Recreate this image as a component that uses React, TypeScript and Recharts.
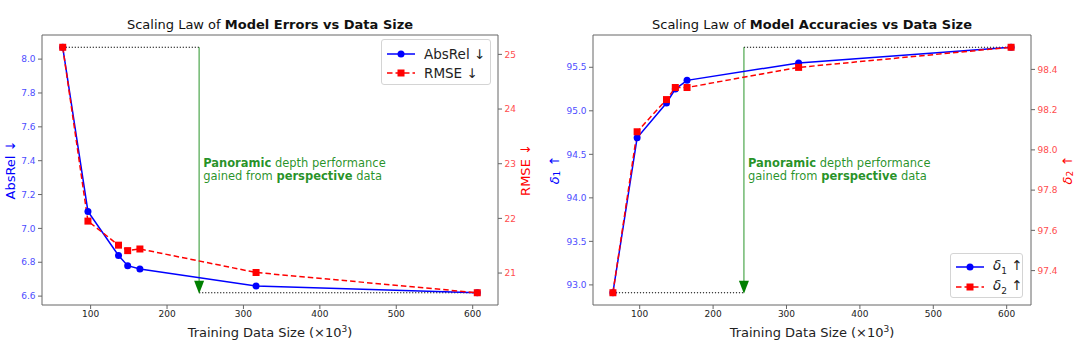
import React from "react"
import { ComposedChart, Legend, Line, ReferenceLine, XAxis, YAxis } from "recharts"

const font = "DejaVu Sans"

const sizes = [63.5, 96.5, 136.5, 148.5, 164.5, 316.5, 606]
const absRel = [8.07, 7.1, 6.84, 6.78, 6.76, 6.66, 6.62]
const rmse = [25.13, 21.95, 21.51, 21.41, 21.44, 21.01, 20.64]
const delta1 = [92.91, 94.69, 95.09, 95.25, 95.35, 95.55, 95.73]
const delta2 = [97.29, 98.09, 98.25, 98.31, 98.31, 98.41, 98.51]

const xTicks = [100, 200, 300, 400, 500, 600]
const absRelTicks = [6.6, 6.8, 7.0, 7.2, 7.4, 7.6, 7.8, 8.0]
const rmseTicks = [21, 22, 23, 24, 25]
const delta1Ticks = [93.0, 93.5, 94.0, 94.5, 95.0, 95.5]
const delta2Ticks = [97.4, 97.6, 97.8, 98.0, 98.2, 98.4]

// data size where the panoramic-only model is matched
const crossover = 242

const errorData = sizes.map((size, i) => ({ size, absRel: absRel[i], rmse: rmse[i] }))
const accData = sizes.map((size, i) => ({ size, delta1: delta1[i], delta2: delta2[i] }))

// matplotlib-like 5% margins
const pad = (v: number[]): [number, number] => {
  const lo = Math.min(...v)
  const hi = Math.max(...v)
  const m = (hi - lo) * 0.05
  return [lo - m, hi + m]
}

const xDomain = pad(sizes)
const absRelDomain = pad(absRel)
const rmseDomain = pad(rmse)
const delta1Domain = pad(delta1)
const delta2Domain = pad(delta2)

const BLUE = "#0000ff"
const RED = "#ff0000"
const SPINE = "#666"

const Square = (props: any) => {
  const { cx, cy, index } = props
  if (cx == null || cy == null) return <g key={index} />
  return <rect key={index} x={cx - 3.5} y={cy - 3.5} width={7} height={7} fill={RED} />
}

const arrowShape = (props: any) => {
  const { x1, y1, x2, y2 } = props
  return (
    <g>
      <line x1={x1} y1={y1} x2={x2} y2={y2 - 10} stroke="#008000" strokeOpacity={0.7} strokeWidth={1.2} />
      <polygon points={`${x2 - 5},${y2 - 12} ${x2 + 5},${y2 - 12} ${x2},${y2 + 1}`} fill="#008000" />
      <text x={x1 + 4} y={166.5} fontSize={11.5} fontFamily={font} fill="#008000" fillOpacity={0.85}>
        <tspan fontWeight="bold">Panoramic</tspan> depth performance
      </text>
      <text x={x1 + 4} y={180} fontSize={11.5} fontFamily={font} fill="#008000" fillOpacity={0.85}>
        gained from <tspan fontWeight="bold">perspective</tspan> data
      </text>
    </g>
  )
}

const titleLabel = (bold: string) => (props: any) => {
  const vb = props.viewBox
  return (
    <text x={vb.x + vb.width / 2} y={vb.y - 6} textAnchor="middle" fontSize={13} fontFamily={font} fill="#111">
      Scaling Law of <tspan fontWeight="bold">{bold}</tspan>
    </text>
  )
}

const xLabel = (props: any) => {
  const vb = props.viewBox
  return (
    <text x={vb.x + vb.width / 2} y={337} textAnchor="middle" fontSize={13} fontFamily={font} fill="#222">
      Training Data Size (×10<tspan dy={-5} fontSize={9}>3</tspan>
      <tspan dy={5}>)</tspan>
    </text>
  )
}

const yLabel = (offset: number, color: string, content: React.ReactNode) => (props: any) => {
  const vb = props.viewBox
  const cx = vb.x + offset
  const cy = vb.y + vb.height / 2
  return (
    <text
      x={cx}
      y={cy}
      textAnchor="middle"
      dominantBaseline="central"
      transform={`rotate(-90 ${cx} ${cy})`}
      fontSize={13}
      fontFamily={font}
      fill={color}
    >
      {content}
    </text>
  )
}

type Item = { label: React.ReactNode; color: string; dashed: boolean }

const LegendBox = ({ items, width, height, rowH, padTop }: { items: Item[]; width: number; height: number; rowH: number; padTop: number }) => (
  <div
    style={{
      width,
      height,
      boxSizing: "border-box",
      border: "1px solid #d4d4d4",
      borderRadius: 3,
      background: "rgba(255,255,255,0.85)",
      paddingTop: padTop,
      paddingLeft: 4.5,
      fontFamily: font,
      fontSize: 13.5,
      color: "#222",
    }}
  >
    {items.map((it, i) => (
      <div key={i} style={{ display: "flex", alignItems: "center", height: rowH, whiteSpace: "nowrap" }}>
        <svg width={28} height={10} style={{ flex: "none" }}>
          <line x1={0} y1={5} x2={28} y2={5} stroke={it.color} strokeWidth={1.5} strokeDasharray={it.dashed ? "5.5 3" : undefined} />
          {it.dashed ? (
            <rect x={10.5} y={1.5} width={7} height={7} fill={it.color} />
          ) : (
            <circle cx={14} cy={5} r={3.5} fill={it.color} />
          )}
        </svg>
        <span style={{ marginLeft: 9.5 }}>{it.label}</span>
      </div>
    ))}
  </div>
)

const dotted = { stroke: "#000", strokeWidth: 1.2, strokeDasharray: "1.2 1.8" }
const tickStyle = (fill: string) => ({ fill, fontSize: 9, fontFamily: font })

export default function App() {
  return (
    <div style={{ position: "absolute", left: 0, top: 0, width: 1080, height: 352, background: "#fff" }}>
      <div style={{ position: "absolute", left: 0, top: 0 }}>
        <ComposedChart width={540} height={352} data={errorData} margin={{ top: 35, right: 0, bottom: 0, left: 0 }}>
          <XAxis
            dataKey="size"
            type="number"
            domain={xDomain}
            ticks={xTicks}
            interval={0}
            height={47}
            tickSize={4}
            tickMargin={2}
            stroke={SPINE}
            tick={tickStyle("#222")}
            label={xLabel}
          />
          <YAxis
            yAxisId="left"
            type="number"
            domain={absRelDomain}
            ticks={absRelTicks}
            interval={0}
            width={42}
            tickSize={4}
            tickMargin={2.5}
            stroke={SPINE}
            tick={tickStyle("#4d4dff")}
            tickFormatter={(v: number) => v.toFixed(1)}
            label={yLabel(10.5, BLUE, "AbsRel ↓")}
          />
          <YAxis
            yAxisId="right"
            orientation="right"
            type="number"
            domain={rmseDomain}
            ticks={rmseTicks}
            interval={0}
            width={42}
            tickSize={4}
            tickMargin={2.5}
            stroke={SPINE}
            tick={tickStyle("#ff4d4d")}
            label={yLabel(27.5, RED, "RMSE ↓")}
          />
          <ReferenceLine yAxisId="left" y={absRelDomain[1]} stroke={SPINE} label={titleLabel("Model Errors vs Data Size")} />
          <ReferenceLine
            yAxisId="left"
            segment={[{ x: sizes[0], y: absRel[0] }, { x: crossover, y: absRel[0] }]}
            {...dotted}
          />
          <ReferenceLine
            yAxisId="left"
            segment={[{ x: crossover, y: absRel[absRel.length - 1] }, { x: sizes[sizes.length - 1], y: absRel[absRel.length - 1] }]}
            {...dotted}
          />
          <ReferenceLine
            yAxisId="left"
            segment={[{ x: crossover, y: absRel[0] }, { x: crossover, y: absRel[absRel.length - 1] }]}
            shape={arrowShape}
          />
          <Line
            yAxisId="left"
            dataKey="absRel"
            type="linear"
            stroke={BLUE}
            strokeWidth={1.5}
            dot={{ r: 3.5, fill: BLUE, stroke: BLUE, strokeWidth: 0 }}
            activeDot={false}
            isAnimationActive={false}
          />
          <Line
            yAxisId="right"
            dataKey="rmse"
            type="linear"
            stroke={RED}
            strokeWidth={1.5}
            strokeDasharray="5.5 3"
            dot={(p: any) => <Square {...p} />}
            activeDot={false}
            isAnimationActive={false}
          />
          <Legend
            layout="vertical"
            align="center"
            verticalAlign="middle"
            wrapperStyle={{ left: 381, top: 39, width: 110, height: 46 }}
            content={() => (
              <LegendBox
                width={110}
                height={46}
                rowH={18.7}
                padTop={4.5}
                items={[
                  { label: "AbsRel  ↓", color: BLUE, dashed: false },
                  { label: "RMSE  ↓", color: RED, dashed: true },
                ]}
              />
            )}
          />
        </ComposedChart>
      </div>

      <div style={{ position: "absolute", left: 540, top: 0 }}>
        <ComposedChart width={540} height={352} data={accData} margin={{ top: 35, right: 0, bottom: 0, left: 0 }}>
          <XAxis
            dataKey="size"
            type="number"
            domain={xDomain}
            ticks={xTicks}
            interval={0}
            height={47}
            tickSize={4}
            tickMargin={2}
            stroke={SPINE}
            tick={tickStyle("#222")}
            label={xLabel}
          />
          <YAxis
            yAxisId="left"
            type="number"
            domain={delta1Domain}
            ticks={delta1Ticks}
            interval={0}
            width={53}
            tickSize={4}
            tickMargin={2.5}
            stroke={SPINE}
            tick={tickStyle("#4d4dff")}
            tickFormatter={(v: number) => v.toFixed(1)}
            label={yLabel(14, BLUE, (
              <>
                <tspan fontStyle="italic">δ</tspan>
                <tspan fontSize={9} dy={3}>1</tspan>
                <tspan dy={-3}> ↑</tspan>
              </>
            ))}
          />
          <YAxis
            yAxisId="right"
            orientation="right"
            type="number"
            domain={delta2Domain}
            ticks={delta2Ticks}
            interval={0}
            width={49}
            tickSize={4}
            tickMargin={2.5}
            stroke={SPINE}
            tick={tickStyle("#ff4d4d")}
            tickFormatter={(v: number) => v.toFixed(1)}
            label={yLabel(36, RED, (
              <>
                <tspan fontStyle="italic">δ</tspan>
                <tspan fontSize={9} dy={3}>2</tspan>
                <tspan dy={-3}> ↑</tspan>
              </>
            ))}
          />
          <ReferenceLine yAxisId="left" y={delta1Domain[1]} stroke={SPINE} label={titleLabel("Model Accuracies vs Data Size")} />
          <ReferenceLine
            yAxisId="left"
            segment={[{ x: crossover, y: delta1[delta1.length - 1] }, { x: sizes[sizes.length - 1], y: delta1[delta1.length - 1] }]}
            {...dotted}
          />
          <ReferenceLine
            yAxisId="left"
            segment={[{ x: sizes[0], y: delta1[0] }, { x: crossover, y: delta1[0] }]}
            {...dotted}
          />
          <ReferenceLine
            yAxisId="left"
            segment={[{ x: crossover, y: delta1[delta1.length - 1] }, { x: crossover, y: delta1[0] }]}
            shape={arrowShape}
          />
          <Line
            yAxisId="left"
            dataKey="delta1"
            type="linear"
            stroke={BLUE}
            strokeWidth={1.5}
            dot={{ r: 3.5, fill: BLUE, stroke: BLUE, strokeWidth: 0 }}
            activeDot={false}
            isAnimationActive={false}
          />
          <Line
            yAxisId="right"
            dataKey="delta2"
            type="linear"
            stroke={RED}
            strokeWidth={1.5}
            strokeDasharray="5.5 3"
            dot={(p: any) => <Square {...p} />}
            activeDot={false}
            isAnimationActive={false}
          />
          <Legend
            layout="vertical"
            align="center"
            verticalAlign="middle"
            wrapperStyle={{ left: 410, top: 253, width: 73, height: 45 }}
            content={() => (
              <LegendBox
                width={73}
                height={45}
                rowH={20}
                padTop={2.5}
                items={[
                  { label: <span><i>δ</i><sub style={{ fontSize: 9 }}>1</sub> ↑</span>, color: BLUE, dashed: false },
                  { label: <span><i>δ</i><sub style={{ fontSize: 9 }}>2</sub> ↑</span>, color: RED, dashed: true },
                ]}
              />
            )}
          />
        </ComposedChart>
      </div>
    </div>
  )
}
